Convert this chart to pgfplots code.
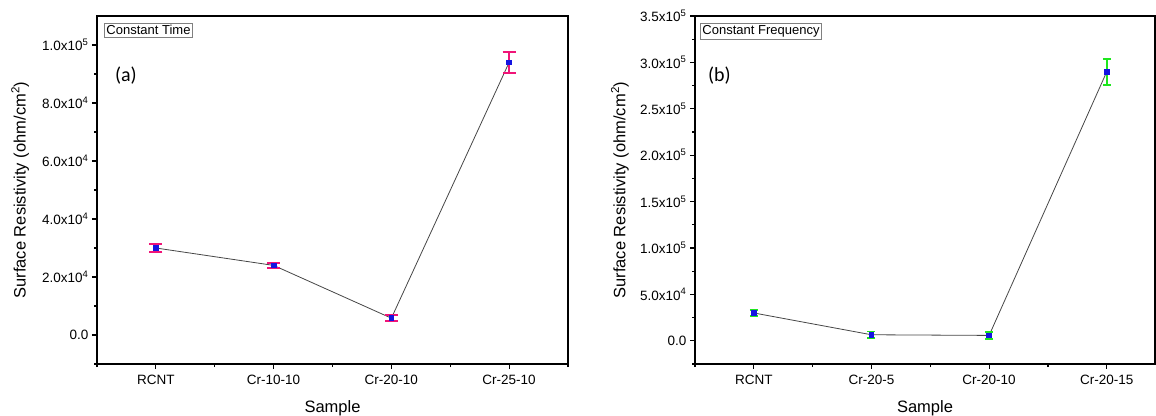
\documentclass[border=0pt]{standalone}
\usepackage{pgfplots}
\pgfplotsset{compat=1.18}
\usepackage{fontspec}
\setmainfont{Liberation Sans}
\newfontfamily\calfont{Carlito}
\definecolor{ebmag}{RGB}{240,20,120}
\definecolor{ebgreen}{RGB}{30,230,30}
\definecolor{mkblue}{RGB}{20,20,225}
\definecolor{lngray}{RGB}{70,70,70}
\pgfplotsset{
  common/.style={
    scale only axis,
    height=348pt,
    xmin=-0.5,
    clip=false,
    scaled y ticks=false,
    axis line style={line width=1.3pt},
    tick style={black, line width=1.1pt},
    tick align=outside,
    major tick length=5pt,
    minor tick length=3pt,
    xtick={0,1,2,3},
    minor xtick={-0.5,0.5,1.5,2.5,3.5},
    xtick pos=bottom,
    ytick pos=left,
    tick label style={font=\fontsize{13.5}{14}\selectfont},
    xticklabel style={yshift=-3pt},
    label style={font=\fontsize{16.5}{18}\selectfont},
    xlabel={Sample},
    xlabel style={at={(axis description cs:0.5,-0.126)}, anchor=center},
    ylabel={Surface Resistivity (ohm/cm\textsuperscript{2})},
    ylabel style={at={(axis description cs:-0.163,0.5)}, anchor=center},
  }
}
\begin{document}
\begin{tikzpicture}
\useasboundingbox (0,0) rectangle (1156pt,415pt);
% ---------- panel (a)
\begin{axis}[common,
  at={(97pt,51pt)}, anchor=south west,
  width=471pt,
  xmax=3.5,
  ymin=-10000, ymax=110000,
  xticklabels={RCNT,Cr-10-10,Cr-20-10,Cr-25-10},
  ytick={0,20000,40000,60000,80000,100000},
  yticklabels={0.0,2.0x10\textsuperscript{4},4.0x10\textsuperscript{4},6.0x10\textsuperscript{4},8.0x10\textsuperscript{4},1.0x10\textsuperscript{5}},
  minor ytick={-10000,10000,30000,50000,70000,90000},
]
\addplot[lngray, line width=0.8pt, mark=square*, mark size=2.4pt,
  mark options={mkblue, fill=mkblue}]
  coordinates {(0,30000) (1,24000) (2,5800) (3,94000)};
\addplot[draw=none, mark=none,
  error bars/.cd, y dir=both, y explicit,
  error bar style={ebmag, line width=1.8pt},
  error mark options={ebmag, line width=1.8pt, mark size=6.5pt, rotate=90}]
  coordinates {
    (0,30000) +- (0,1400)
    (1,24000) +- (0,900)
    (2,5800) +- (0,1000)
    (3,94000) +- (0,3700)
  };
\node[draw=gray, line width=0.8pt, inner sep=2pt, anchor=north west,
  font=\fontsize{13}{14}\selectfont] at (axis description cs:0.015,0.98) {Constant Time};
\node[anchor=west, inner sep=0pt, font=\calfont\fontsize{20}{22}\selectfont]
  at (axis description cs:0.038,0.83) {(a)};
\end{axis}
% ---------- panel (b)
\begin{axis}[common,
  at={(695pt,51pt)}, anchor=south west,
  width=460pt,
  xmax=3.41,
  ymin=-25000, ymax=350000,
  xticklabels={RCNT,Cr-20-5,Cr-20-10,Cr-20-15},
  ytick={0,50000,100000,150000,200000,250000,300000,350000},
  yticklabels={0.0,5.0x10\textsuperscript{4},1.0x10\textsuperscript{5},1.5x10\textsuperscript{5},2.0x10\textsuperscript{5},2.5x10\textsuperscript{5},3.0x10\textsuperscript{5},3.5x10\textsuperscript{5}},
  minor ytick={-25000,25000,75000,125000,175000,225000,275000,325000},
]
\addplot[lngray, line width=0.8pt, mark=square*, mark size=2.4pt,
  mark options={mkblue, fill=mkblue}]
  coordinates {(0,30000) (1,6500) (2,5800) (3,290000)};
\addplot[draw=none, mark=none,
  error bars/.cd, y dir=both, y explicit,
  error bar style={ebgreen, line width=1.8pt},
  error mark options={ebgreen, line width=1.8pt, mark size=4pt, rotate=90}]
  coordinates {
    (0,30000) +- (0,3500)
    (1,6500) +- (0,3500)
    (2,5800) +- (0,3500)
    (3,290000) +- (0,14000)
  };
\node[draw=gray, line width=0.8pt, inner sep=2pt, anchor=north west,
  font=\fontsize{13}{14}\selectfont] at (axis description cs:0.011,0.98) {Constant Frequency};
\node[anchor=west, inner sep=0pt, font=\calfont\fontsize{20}{22}\selectfont]
  at (axis description cs:0.028,0.83) {(b)};
\end{axis}
\end{tikzpicture}
\end{document}
